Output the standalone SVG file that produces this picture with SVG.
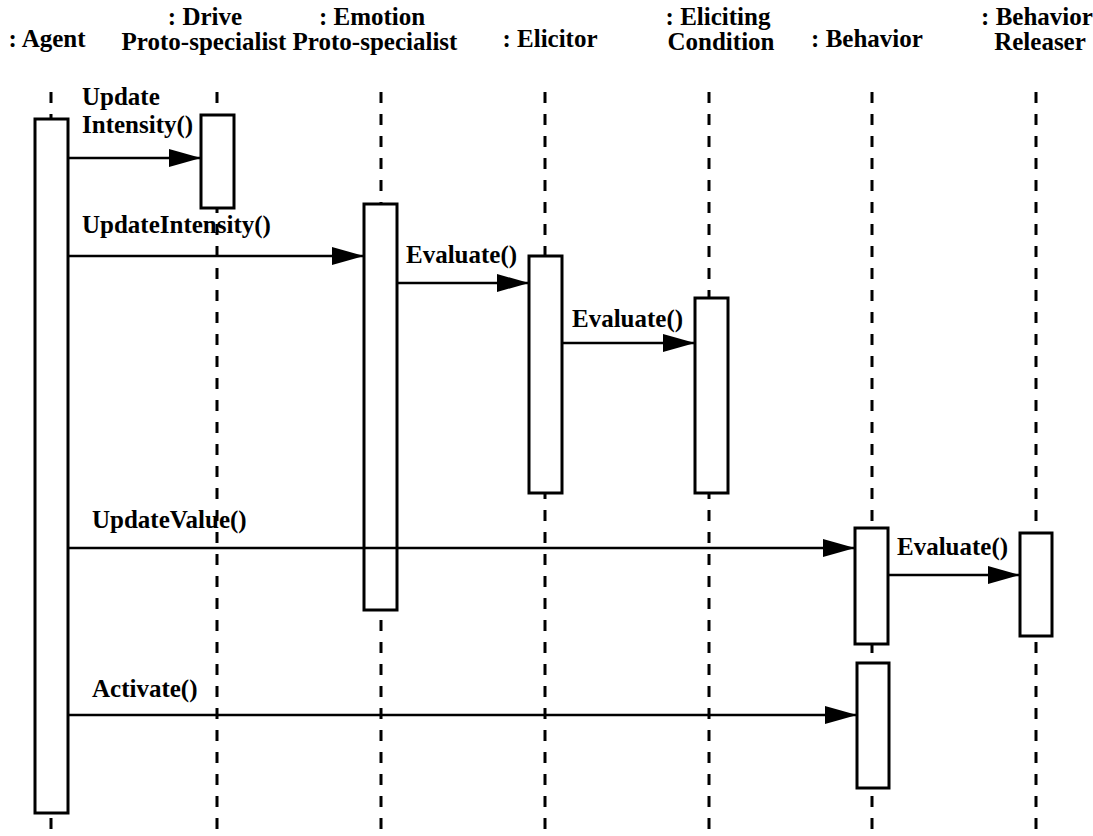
<svg xmlns="http://www.w3.org/2000/svg" width="1093" height="836" viewBox="0 0 1093 836">
<style>
text{font-family:"Liberation Serif","Times New Roman",serif;font-size:25px;font-weight:bold;fill:#000}
.hd{text-anchor:middle}
.life{stroke:#000;stroke-width:3;stroke-dasharray:11 11;fill:none}
.bar{fill:#fff;stroke:#000;stroke-width:3}
.msg{stroke:#000;stroke-width:2.5;fill:none;marker-end:url(#ah)}
</style>
<defs>
<marker id="ah" markerUnits="userSpaceOnUse" markerWidth="32" markerHeight="18" refX="32" refY="9" orient="auto">
<path d="M0,0 L32,9 L0,18 Z" fill="#000"/>
</marker>
</defs>
<rect width="1093" height="836" fill="#fff"/>
<g id="lifelines">
<line class="life" x1="51" y1="92" x2="51" y2="836"/>
<line class="life" x1="217" y1="92" x2="217" y2="836"/>
<line class="life" x1="381" y1="92" x2="381" y2="836"/>
<line class="life" x1="545" y1="92" x2="545" y2="836"/>
<line class="life" x1="709" y1="92" x2="709" y2="836"/>
<line class="life" x1="872" y1="92" x2="872" y2="836"/>
<line class="life" x1="1036" y1="92" x2="1036" y2="836"/>
</g>
<g id="agent">
<text x="47" y="47" class="hd">: Agent</text>
<rect class="bar" x="35" y="119" width="33" height="694"/>
</g>
<g id="drive">
<text x="205" y="25" class="hd">: Drive</text>
<text x="204" y="50" class="hd">Proto-specialist</text>
<rect class="bar" x="201" y="115" width="33" height="93"/>
</g>
<g id="emotion">
<text x="372" y="25" class="hd">: Emotion</text>
<text x="375" y="50" class="hd">Proto-specialist</text>
<rect class="bar" x="364" y="204" width="33" height="406"/>
</g>
<g id="elicitor">
<text x="550" y="47" class="hd">: Elicitor</text>
<rect class="bar" x="529" y="256" width="33" height="237"/>
</g>
<g id="eliciting-condition">
<text x="718" y="25" class="hd">: Eliciting</text>
<text x="721" y="50" class="hd">Condition</text>
<rect class="bar" x="695" y="298" width="33" height="195"/>
</g>
<g id="behavior">
<text x="867" y="47" class="hd">: Behavior</text>
<rect class="bar" x="855" y="528" width="33" height="116"/>
<rect class="bar" x="857" y="663" width="32" height="125"/>
</g>
<g id="behavior-releaser">
<text x="1037" y="25" class="hd">: Behavior</text>
<text x="1040" y="50" class="hd">Releaser</text>
<rect class="bar" x="1020" y="533" width="32" height="103"/>
</g>
<g id="connectors">
<line class="msg" x1="68" y1="158" x2="201" y2="158"/>
<line class="msg" x1="68" y1="256" x2="364" y2="256"/>
<line class="msg" x1="397" y1="283" x2="529" y2="283"/>
<line class="msg" x1="562" y1="343" x2="695" y2="343"/>
<line class="msg" x1="68" y1="548" x2="855" y2="548"/>
<line class="msg" x1="888" y1="575" x2="1020" y2="575"/>
<line class="msg" x1="68" y1="715" x2="857" y2="715"/>
<text x="82" y="105">Update</text>
<text x="82" y="133">Intensity()</text>
<text x="82" y="233">UpdateIntensity()</text>
<text x="406" y="263">Evaluate()</text>
<text x="572" y="327">Evaluate()</text>
<text x="92" y="528">UpdateValue()</text>
<text x="897" y="555">Evaluate()</text>
<text x="92" y="697">Activate()</text>
</g>
</svg>
